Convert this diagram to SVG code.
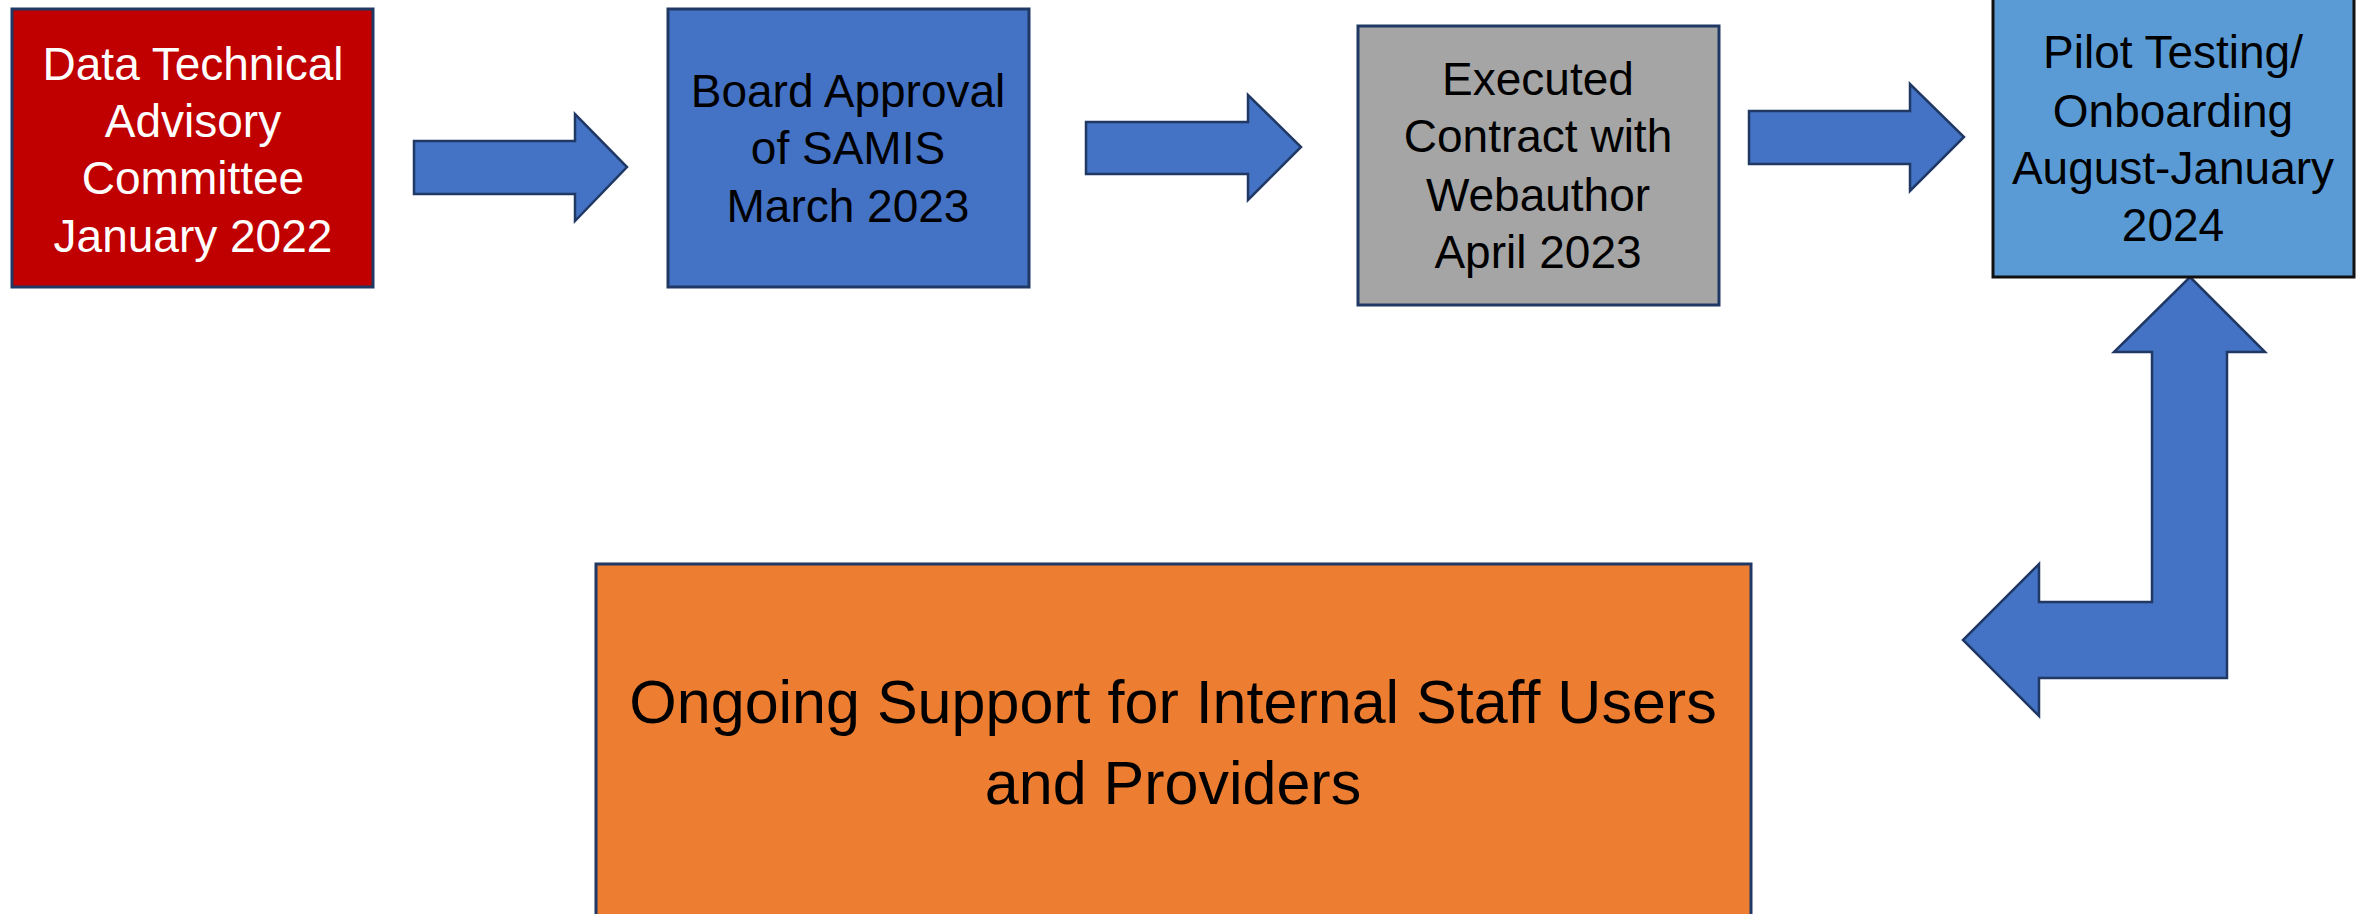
<svg xmlns="http://www.w3.org/2000/svg" width="2358" height="914" viewBox="0 0 2358 914">
<style>
.box{stroke:#1f3864;stroke-width:3}
.arr{fill:#4472c4;stroke:#1f3864;stroke-width:2.5;stroke-linejoin:miter}
text{font-family:"Liberation Sans",Arial,sans-serif;font-size:46px;text-anchor:middle;fill:#000}
.w{fill:#fff}
.big{font-size:61px}
</style>
<rect width="2358" height="914" fill="#fff"/>
<g id="connectors">
<polygon class="arr" points="414,141 575,141 575,114 627,167 575,221 575,194 414,194"/>
<polygon class="arr" points="1086,122 1248,122 1248,95 1301,147 1248,200 1248,174 1086,174"/>
<polygon class="arr" points="1749,111 1910,111 1910,84 1964,137 1910,191 1910,164 1749,164"/>
<polygon class="arr" points="2190,277 2265,352 2227,352 2227,678 2039,678 2039,716 1963,640 2039,564 2039,602 2152,602 2152,352 2114,352"/>
</g>
<g id="node-dtac">
<rect class="box" x="12" y="9" width="361" height="278" fill="#c00000"/>
<text class="w" x="193" y="80">Data Technical</text>
<text class="w" x="193" y="137">Advisory</text>
<text class="w" x="193" y="194">Committee</text>
<text class="w" x="193" y="252">January 2022</text>
</g>
<g id="node-board">
<rect class="box" x="668" y="9" width="361" height="278" fill="#4472c4"/>
<text x="848" y="107">Board Approval</text>
<text x="848" y="164">of SAMIS</text>
<text x="848" y="222">March 2023</text>
</g>
<g id="node-contract">
<rect class="box" x="1358" y="26" width="361" height="279" fill="#a5a5a5"/>
<text x="1538" y="95">Executed</text>
<text x="1538" y="152">Contract with</text>
<text x="1538" y="211">Webauthor</text>
<text x="1538" y="268">April 2023</text>
</g>
<g id="node-pilot">
<rect x="1993" y="-6" width="361" height="283" fill="#5b9bd5" stroke="#111" stroke-width="3"/>
<text x="2173" y="68">Pilot Testing/</text>
<text x="2173" y="127">Onboarding</text>
<text x="2173" y="184">August-January</text>
<text x="2173" y="241">2024</text>
</g>
<g id="node-support">
<rect class="box" x="596" y="564" width="1155" height="360" fill="#ed7d31"/>
<text class="big" x="1173" y="723">Ongoing Support for Internal Staff Users</text>
<text class="big" x="1173" y="804">and Providers</text>
</g>
</svg>
